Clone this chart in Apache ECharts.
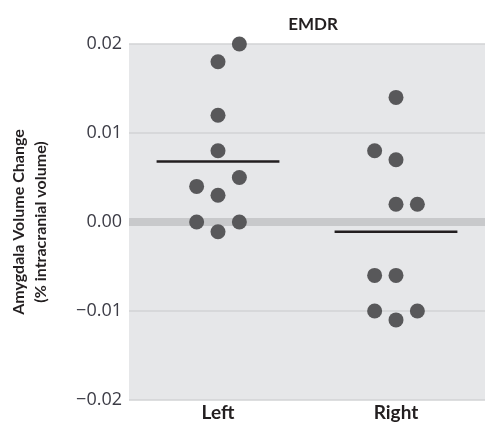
<!DOCTYPE html>
<html>
<head>
<meta charset="utf-8">
<script src="https://cdn.jsdelivr.net/npm/echarts@6/dist/echarts.min.js"></script>
<style>html,body{margin:0;padding:0;background:#fff}#c{width:485px;height:428px}</style>
</head>
<body>
<div id="c"></div>
<script>
var categories = ['Left', 'Right'];
var leftValues = [0.020, 0.018, 0.012, 0.008, 0.005, 0.004, 0.003, 0.000, 0.000, -0.0011];
var leftSlots  = [1, 0, 0, 0, 1, -1, 0, -1, 1, 0];
var rightValues = [0.014, 0.008, 0.007, 0.002, 0.002, -0.006, -0.006, -0.010, -0.010, -0.011];
var rightSlots  = [0, -1, 0, 0, 1, -1, 0, -1, 1, 0];
var means = [0.0068, -0.0011];
var yTicks = [-0.02, -0.01, 0.00, 0.01, 0.02];

var SLOT = 0.12, HALF = 0.345;
function pts(vals, slots, ci) {
  return vals.map(function (v, i) { return [ci + 0.5 + slots[i] * SLOT, v]; });
}
function fmt(v) {
  var s = Math.abs(v).toFixed(2);
  return v < -1e-9 ? '\u2212' + s : s;
}
var chart = echarts.init(document.getElementById('c'));
var meanSeries = means.map(function (m, ci) {
  return {
    type: 'line', xAxisIndex: 1, yAxisIndex: 0, symbol: 'none', silent: true, z: 4,
    lineStyle: { color: '#231f20', width: 2.5 },
    data: [[ci + 0.5 - HALF, m], [ci + 0.5 + HALF, m]]
  };
});
chart.setOption({
  animation: false,
  title: {
    text: 'EMDR', left: 308, top: 11, textAlign: 'center',
    textStyle: { fontFamily: 'Lato', fontWeight: 'bold', fontSize: 17, color: '#231f20' }
  },
  grid: { left: 129, right: 0, top: 44, bottom: 28, show: true, backgroundColor: '#e6e7e9', borderWidth: 0 },
  xAxis: [
    { type: 'category', data: categories, boundaryGap: true,
      axisLine: { show: false }, axisTick: { show: false }, splitLine: { show: false },
      axisLabel: { margin: 3, fontFamily: 'Lato', fontWeight: 'bold', fontSize: 19, color: '#231f20' } },
    { type: 'value', min: 0, max: 2, show: false }
  ],
  yAxis: {
    type: 'value', min: -0.02, max: 0.02, interval: 0.01,
    name: 'Amygdala Volume Change\n(% intracranial volume)',
    nameLocation: 'middle', nameGap: 77, nameRotate: 90,
    nameTextStyle: { fontFamily: 'Lato', fontWeight: 'bold', fontSize: 16, color: '#231f20', lineHeight: 22, align: 'center' },
    axisLine: { show: false }, axisTick: { show: false },
    axisLabel: { margin: 7, fontFamily: 'Open Sans', fontSize: 18, color: '#3c3c46', formatter: fmt },
    splitLine: { lineStyle: { color: '#d2d3d5', width: 1.5 } }
  },
  series: [
    { type: 'line', xAxisIndex: 1, data: [], silent: true, z: 1,
      markLine: { silent: true, symbol: 'none', label: { show: false },
        lineStyle: { color: '#c8c9cb', width: 8, type: 'solid' },
        data: [{ yAxis: 0 }] } },
    { type: 'scatter', xAxisIndex: 1, symbolSize: 15, z: 5,
      itemStyle: { color: '#58585a', opacity: 1 }, data: pts(leftValues, leftSlots, 0) },
    { type: 'scatter', xAxisIndex: 1, symbolSize: 15, z: 5,
      itemStyle: { color: '#58585a', opacity: 1 }, data: pts(rightValues, rightSlots, 1) }
  ].concat(meanSeries)
});
</script>
</body>
</html>
